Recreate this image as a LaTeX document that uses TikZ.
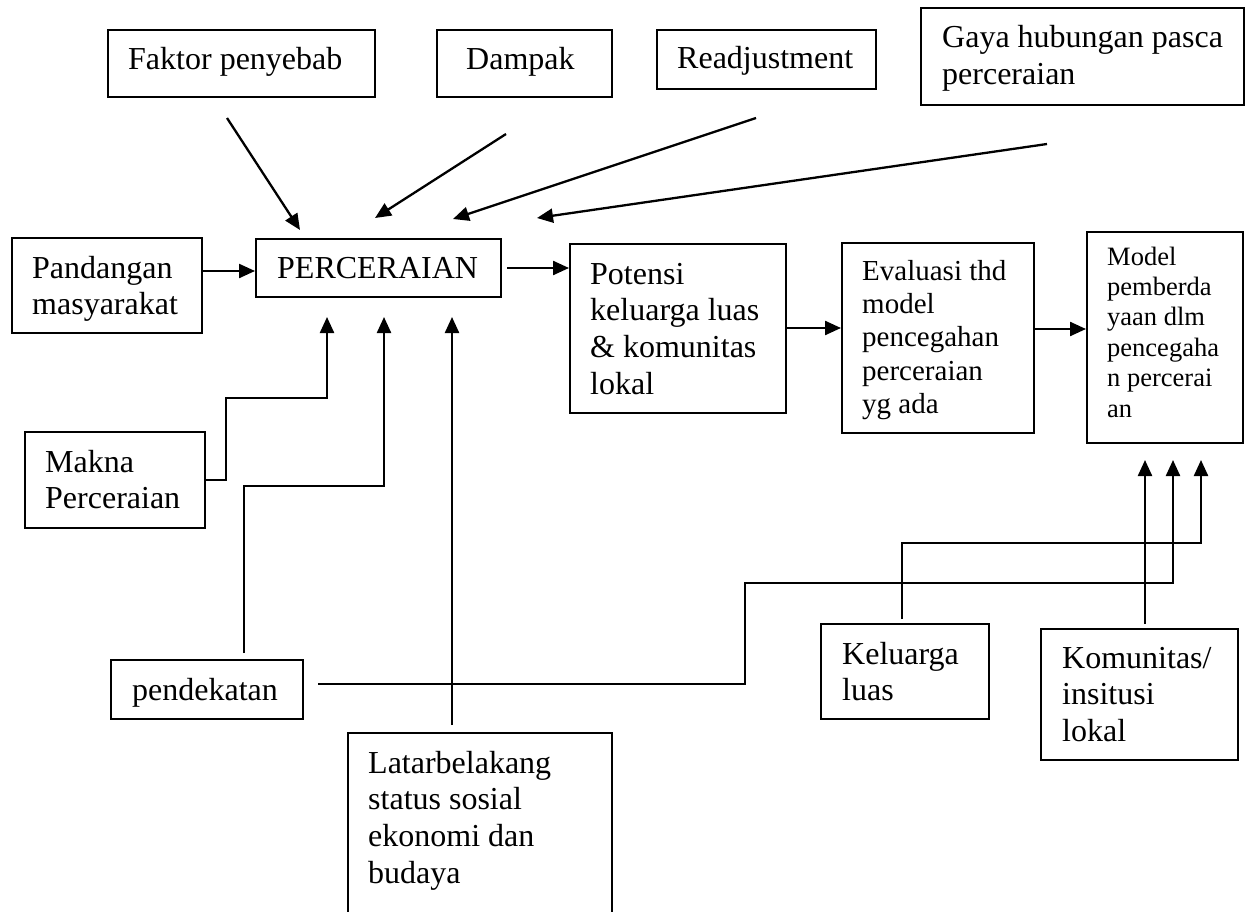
\documentclass[tikz,border=0pt]{standalone}
\usepackage{fontspec}
\setmainfont{Liberation Serif}
\usetikzlibrary{arrows.meta}

% left-aligned block of lines whose baseline is the first line's baseline
\newcommand{\rows}[1]{\vtop{\halign{##\hfil\cr#1\crcr}}}

\tikzset{
  box/.style={draw, line width=2pt, inner sep=0pt, anchor=north west},
  lbl/.style={inner sep=0pt, anchor=base west, font=\fontsize{32}{36.8}\selectfont},
  lblsm/.style={lbl, font=\fontsize{29}{33.35}\selectfont},
  lbltiny/.style={lbl, font=\fontsize{26.5}{30.5}\selectfont},
  conn/.style={line width=2pt},
  arr/.style={conn, line width=2.3pt, -{Triangle[length=16pt,width=14pt]}},
}

\begin{document}
\begin{tikzpicture}[x=1pt,y=-1pt]
  \path[use as bounding box, clip] (0,0) rectangle (1250,912);
  \fill[white] (0,0) rectangle (1250,912);

  % boxes
  \node[box, minimum width=267, minimum height=67] (faktor) at (107,29) {};
  \node[box, minimum width=175, minimum height=67] (dampak) at (436,29) {};
  \node[box, minimum width=219, minimum height=59] (readj) at (656,29) {};
  \node[box, minimum width=323, minimum height=97] (gaya) at (920,7) {};
  \node[box, minimum width=190, minimum height=95] (pand) at (11,237) {};
  \node[box, minimum width=245, minimum height=58] (perc) at (255,238) {};
  \node[box, minimum width=216, minimum height=169] (potensi) at (569,243) {};
  \node[box, minimum width=192, minimum height=190] (eval) at (841,242) {};
  \node[box, minimum width=156, minimum height=211] (model) at (1086,231) {};
  \node[box, minimum width=180, minimum height=96] (makna) at (24,431) {};
  \node[box, minimum width=192, minimum height=59] (pendek) at (110,659) {};
  \node[box, minimum width=264, minimum height=220] (latar) at (347,732) {};
  \node[box, minimum width=168, minimum height=95] (keluarga) at (820,623) {};
  \node[box, minimum width=197, minimum height=131] (komunitas) at (1040,628) {};

  % box texts
  \node[lbl] (faktor-t) at (128,70) {Faktor penyebab};
  \node[lbl] (dampak-t) at (466,70) {Dampak};
  \node[lbl] (readj-t) at (677,69) {Readjustment};
  \node[lbl] (gaya-t) at (942,48) {\rows{Gaya hubungan pasca\cr perceraian}};
  \node[lbl] (pand-t) at (32,278) {\rows{Pandangan\cr masyarakat}};
  \node[lbl] (perc-t) at (277,278) {PERCERAIAN};
  \node[lbl] (potensi-t) at (590,284) {\rows{Potensi\cr keluarga luas\cr \& komunitas\cr lokal}};
  \node[lblsm] (eval-t) at (862,280) {\rows{Evaluasi thd\cr model\cr pencegahan\cr perceraian\cr yg ada}};
  \node[lbltiny] (model-t) at (1107,265) {\rows{Model\cr pemberda\cr yaan dlm\cr pencegaha\cr n percerai\cr an}};
  \node[lbl] (makna-t) at (45,472) {\rows{Makna\cr Perceraian}};
  \node[lbl] (pendek-t) at (132,700) {pendekatan};
  \node[lbl] (latar-t) at (368,773) {\rows{Latarbelakang\cr status sosial\cr ekonomi dan\cr budaya}};
  \node[lbl] (keluarga-t) at (842,664) {\rows{Keluarga\cr luas}};
  \node[lbl] (komunitas-t) at (1062,668) {\rows{Komunitas/\cr insitusi\cr lokal}};

  % free ends of the connectors
  \coordinate (a1s) at (227,118);  \coordinate (a1e) at (300,230);
  \coordinate (a2s) at (506,134);  \coordinate (a2e) at (375,218);
  \coordinate (a3s) at (756,118);  \coordinate (a3e) at (453,219);
  \coordinate (a4s) at (1047,144); \coordinate (a4e) at (537,218);
  \coordinate (u1) at (327,317);
  \coordinate (u2) at (384,317);
  \coordinate (u3) at (452,317);
  \coordinate (m1) at (1145,460);
  \coordinate (m2) at (1173,460);
  \coordinate (m3) at (1201,460);
  \coordinate (pk-s) at (244,653);
  \coordinate (pk-r) at (318,684);
  \coordinate (lt-s) at (452,725);
  \coordinate (kl-s) at (902,619);
  \coordinate (km-s) at (1145,624);
  \coordinate (pc-s) at (507,268);

  % diagonal arrows into PERCERAIAN
  \draw[arr] (a1s) -- (a1e);
  \draw[arr] (a2s) -- (a2e);
  \draw[arr] (a3s) -- (a3e);
  \draw[arr] (a4s) -- (a4e);

  % main chain
  \draw[arr] (pand.east |- 0,271) -- (perc.west |- 0,271);
  \draw[arr] (pc-s) -- (potensi.west |- pc-s);
  \draw[arr] (potensi.east |- 0,328) -- (eval.west |- 0,328);
  \draw[arr] (eval.east |- 0,329) -- (model.west |- 0,329);

  % upward arrows into PERCERAIAN
  \draw[arr] (makna.east) -| (226,398) -| (u1);
  \draw[arr] (pk-s) -- (244,486) -| (u2);
  \draw[arr] (lt-s) -- (u3);

  % connectors into the model box
  \draw[arr] (pk-r) -- (745,684) -- (745,583) -| (m2);
  \draw[arr] (kl-s) -- (902,543) -| (m3);
  \draw[arr] (km-s) -- (m1);
\end{tikzpicture}
\end{document}
